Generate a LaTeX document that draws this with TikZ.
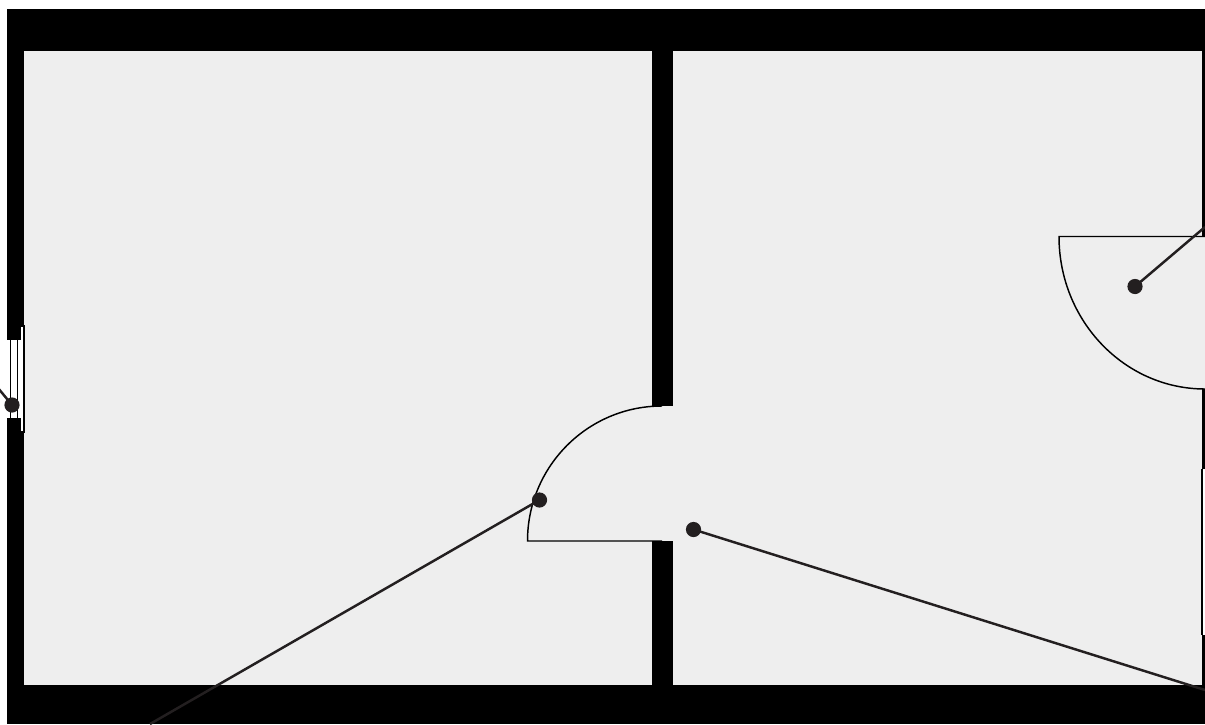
\documentclass[tikz,border=0pt]{standalone}
\tikzset{
  wall/.style={fill=black,draw=none},
  floorarea/.style={fill=floorgrey,draw=none},
  doorline/.style={draw=black,line width=1.1pt},
  leader/.style={draw=leadcol,line width=1.85pt},
  dotmark/.style={circle,fill=leadcol,draw=none,minimum size=11.4pt,inner sep=0pt},
  glass/.style={draw=black,line width=0.95pt}
}
\definecolor{floorgrey}{HTML}{EEEEEE}
\definecolor{leadcol}{HTML}{231F20}
\begin{document}
\begin{tikzpicture}[x=0.75pt,y=-0.75pt]
\useasboundingbox (0,0) rectangle (1205,724);
\fill[white] (0,0) rectangle (1205,724);
\fill[wall] (7,9) rectangle (1205,724);
\fill[floorarea] (24,51) rectangle (652,685);
\fill[floorarea] (673,51) rectangle (1202,685);
\fill[floorarea] (650,406) rectangle (675,541);
\fill[floorarea] (1200,237) rectangle (1205,389);
% right window
\fill[white] (1203,469) rectangle (1205,635);
\draw[glass] (1202,469) -- (1202,635);
% left window
\fill[white] (7,326) rectangle (24,432);
\fill[wall] (7,326) rectangle (21,340);
\fill[wall] (7,418) rectangle (21,432);
\draw[glass] (7,326) -- (24,326) -- (24,432) -- (7,432);
\draw[glass] (10.5,340) -- (10.5,418);
\draw[glass] (17.5,340) -- (17.5,418);
% doors
\draw[doorline] (662,406) arc[start angle=-90,end angle=-180,x radius=134.5,y radius=135] -- (662,541);
\draw[doorline] (1205,236.5) -- (1059,236.5) arc[start angle=180,end angle=90,x radius=146,y radius=152.5];
% markers
\node[dotmark] (d1) at (12,405) {};
\node[dotmark] (d2) at (539.5,500) {};
\node[dotmark] (d3) at (693.5,529.5) {};
\node[dotmark] (d4) at (1135,286.5) {};
\coordinate (e1) at (-2,388);
\coordinate (e2) at (150,724);
\coordinate (e3) at (1205,690);
\coordinate (e4) at (1205,227);
\draw[leader] (d1.center) -- (e1);
\draw[leader] (d2.center) -- (e2);
\draw[leader] (d3.center) -- (e3);
\draw[leader] (d4.center) -- (e4);
\end{tikzpicture}
\end{document}
